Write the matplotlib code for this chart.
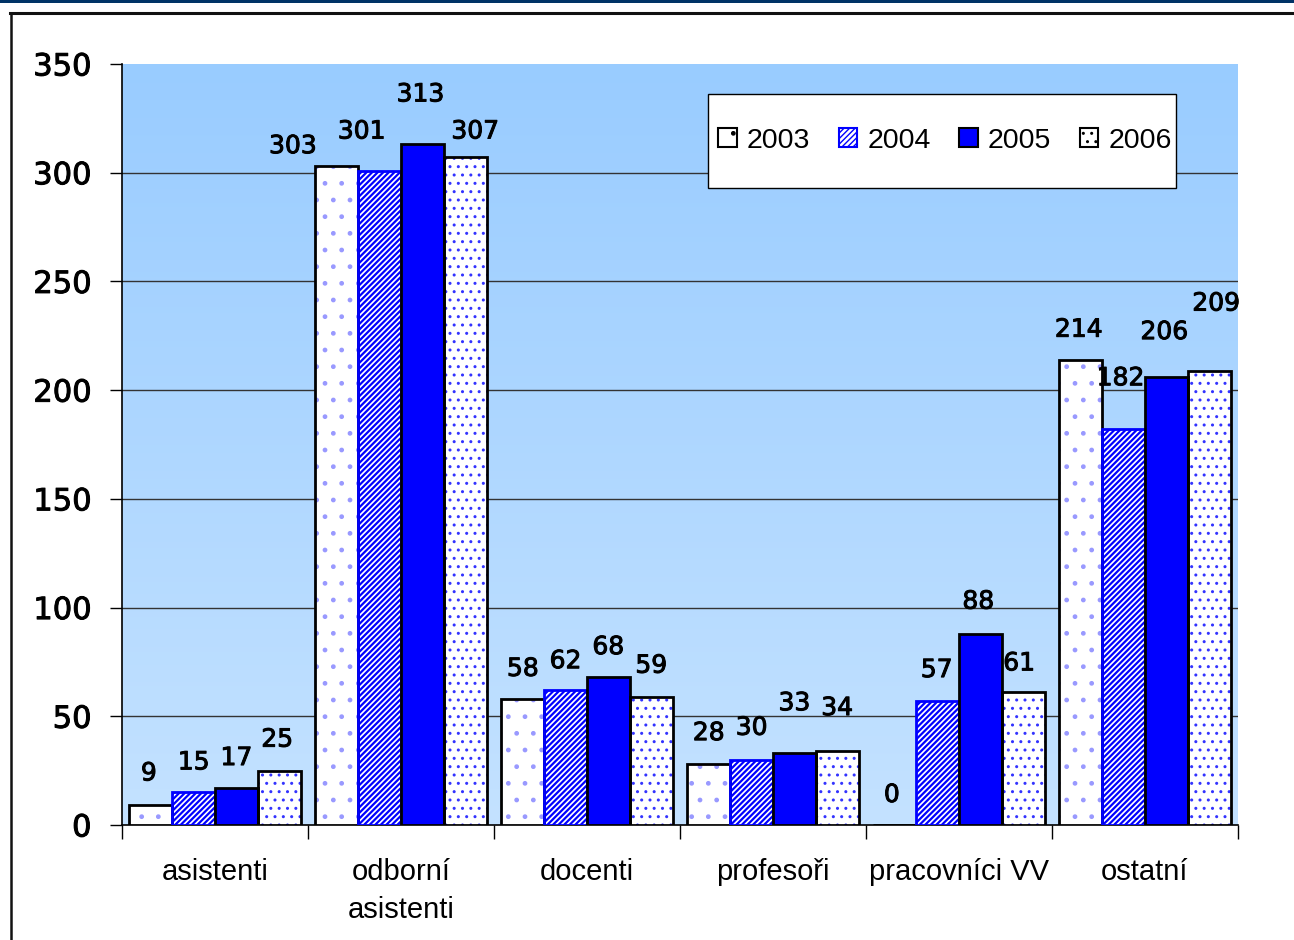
import numpy as np
import matplotlib
matplotlib.use("Agg")
import matplotlib.pyplot as plt
import matplotlib.patheffects as pe
from matplotlib.patches import Rectangle
from matplotlib.lines import Line2D
from matplotlib.colors import LinearSegmentedColormap

categories = ["asistenti", "odborní\nasistenti", "docenti", "profesoři", "pracovníci VV", "ostatní"]
years = ["2003", "2004", "2005", "2006"]
v2003 = [9, 303, 58, 28, 0, 214]
v2004 = [15, 301, 62, 30, 57, 182]
v2005 = [17, 313, 68, 33, 88, 206]
v2006 = [25, 307, 59, 34, 61, 209]
series = [v2003, v2004, v2005, v2006]
yticks = [0, 50, 100, 150, 200, 250, 300, 350]

# label offsets in pixels (dx, dy above bar top)
label_off = [
    [(-2, 32), (-44, 20), (0, 30), (0, 31), (-3, 30), (-2, 30)],
    [(0, 30), (-18, 39), (0, 29), (0, 32), (-1, 31), (-3, 51)],
    [(0, 30), (-2, 50), (0, 30), (0, 50), (-2, 32), (-2, 45)],
    [(-2, 31), (10, 26), (0, 31), (0, 43), (-4, 29), (7, 67)],
]

heavy = [pe.withStroke(linewidth=0.7, foreground="black")]

fig = plt.figure(figsize=(12.94, 9.40), dpi=100)
ax = fig.add_axes([122/1294, 1-825/940, 1116/1294, 761/940])

# gradient background
cmap = LinearSegmentedColormap.from_list("bg", ["#c4e2ff", "#99ccff"])
grad = np.linspace(0, 1, 256).reshape(-1, 1)
ax.imshow(grad, extent=[0, 1, 0, 1], transform=ax.transAxes, cmap=cmap,
          origin="lower", aspect="auto", zorder=0)

n = len(categories)
w = 0.23
x = np.arange(n) + 0.5

styles = [
    dict(face="white", hatch=".", hcol="#9999ff", edge="black"),
    dict(face="white", hatch="//////", hcol="#0000ff", edge="#0000ff"),
    dict(face="#0000ff", hatch=None, hcol="#0000ff", edge="black"),
    dict(face="white", hatch="..", hcol="#3333ff", edge="black"),
]

handles = []
for j, (vals, st) in enumerate(zip(series, styles)):
    pos = x + (j - 1.5) * w
    plt.rcParams["hatch.linewidth"] = 1.6 if j == 1 else 1.0
    ax.bar(pos, vals, width=w, color=st["face"], edgecolor=st["hcol"],
           hatch=st["hatch"], linewidth=0, zorder=3)
    ax.bar(pos, vals, width=w, fill=False, edgecolor=st["edge"], linewidth=2.0, zorder=4)
    h = Rectangle((0, 0), 1, 1, facecolor=st["face"], edgecolor=st["edge"],
                  hatch=st["hatch"], linewidth=1.5)
    handles.append(h)
    for i, v in enumerate(vals):
        dx, dy = label_off[j][i]
        ax.annotate(str(v), (pos[i], v), xytext=(dx, dy), textcoords="offset pixels",
                    ha="center", va="center", fontsize=18, family="DejaVu Sans",
                    zorder=6, annotation_clip=False, path_effects=heavy)

ax.set_xlim(0, n)
ax.set_ylim(0, 350)
ax.set_yticks(yticks)
ax.set_yticklabels([str(t) for t in yticks], fontsize=22, family="DejaVu Sans")
for lab in ax.get_yticklabels():
    lab.set_path_effects(heavy)
for t in yticks[1:-1]:
    ax.axhline(t, color="#333333", linewidth=1.0, zorder=1)

ax.set_xticks(np.arange(n + 1))
ax.set_xticklabels([])
ax.set_xticks(x, minor=True)
ax.set_xticklabels(categories, minor=True, fontsize=21, family="Liberation Sans",
                   linespacing=1.45)
ax.tick_params(axis="x", which="minor", length=0, pad=24)
ax.tick_params(axis="x", which="major", length=10, width=1, direction="out")
ax.tick_params(axis="y", length=9, width=1, direction="out", pad=13)

for s in ["top", "right"]:
    ax.spines[s].set_visible(False)
ax.spines["left"].set_linewidth(1.2)
ax.spines["bottom"].set_linewidth(1.2)

# legend frame drawn manually, legend without frame
ax.add_patch(Rectangle((0.525, 0.837), 0.4194, 0.1236, transform=ax.transAxes,
                       facecolor="white", edgecolor="black", linewidth=1.0, zorder=7))
leg = ax.legend(handles, years, loc="center", bbox_to_anchor=(0.7375, 0.899), ncol=4,
                prop={"family": "Liberation Sans", "size": 20.5}, frameon=False,
                handlelength=0.65, handleheight=0.65, handletextpad=0.36,
                columnspacing=1.0, borderpad=0.3)
leg.set_zorder(8)

# page decorations
fig.add_artist(Rectangle((0, 1 - 3/940), 1, 3/940, transform=fig.transFigure,
                         facecolor="#003366", edgecolor="none"))
fig.add_artist(Line2D([10/1294, 1], [1 - 12.5/940, 1 - 12.5/940], transform=fig.transFigure,
                      color="#111111", linewidth=2.2))
fig.add_artist(Line2D([10.5/1294, 10.5/1294], [0, 1 - 12.5/940], transform=fig.transFigure,
                      color="#111111", linewidth=1.8))

fig.savefig("out.png", dpi=100)
